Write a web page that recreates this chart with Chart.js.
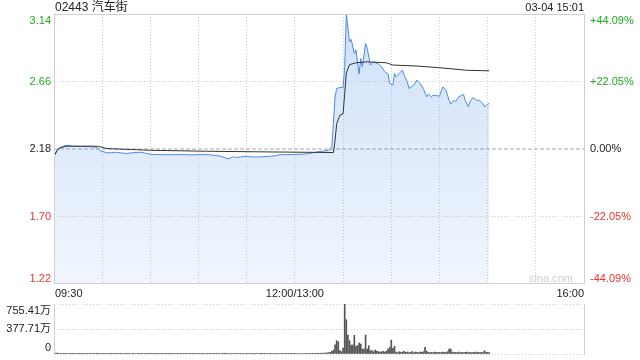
<!DOCTYPE html>
<html>
<head>
<meta charset="utf-8">
<script src="https://cdn.jsdelivr.net/npm/chart.js@4.4.1/dist/chart.umd.min.js"></script>
<style>
html, body { margin: 0; padding: 0; background: #fff; }
#wrap { position: relative; width: 640px; height: 360px; overflow: hidden; }
#main { position: absolute; left: 0; top: 0; width: 640px; height: 300px; }
#vol { position: absolute; left: 0; top: 300px; width: 640px; height: 60px; }
</style>
</head>
<body>
<div id="wrap">
  <div id="main"><canvas id="priceChart"></canvas></div>
  <div id="vol"><canvas id="volChart"></canvas></div>
</div>
<script>
// header
var stockTitle = '02443 汽车街';
var stamp = '03-04 15:01';

// trading minutes: 0 = 09:30, 150 = 12:00/13:00, 330 = 16:00
var prevClose = 2.18;
var priceTicks = [1.22, 1.70, 2.18, 2.66, 3.14];
var priceLabels = ['1.22', '1.70', '2.18', '2.66', '3.14'];
var pctLabels = ['-44.09%', '-22.05%', '0.00%', '+22.05%', '+44.09%'];
var gridMinutes = [0, 30, 60, 90, 120, 150, 180, 210, 240, 270, 300, 330];
var timeMinutes = [0, 150, 330];
var timeLabels = ['09:30', '12:00/13:00', '16:00'];

var priceMinutes = [0, 1, 2, 3, 5, 7, 9, 12, 16, 20, 24, 27, 28, 29, 31, 33, 36, 39, 42, 45, 48, 51, 54, 57, 60, 64,
  70, 75, 80, 86, 91, 96, 100, 104, 107, 109, 111, 113, 116, 119, 122, 126, 130, 134, 137, 141, 145, 150, 153, 157,
  161, 164, 168, 171, 173, 175, 176, 178, 180, 181, 182, 184, 185, 187, 188, 190, 191, 192, 194, 195, 197, 199, 202,
  204, 206, 208, 209, 211, 212, 213, 215, 217, 218, 220, 221, 224, 226, 228, 230, 232, 233, 235, 236, 240, 242, 244,
  246, 247, 249, 250, 252, 255, 256, 258, 259, 261, 263, 265, 267, 268, 270, 271];
var prices = [2.13, 2.15, 2.175, 2.185, 2.195, 2.205, 2.205, 2.20, 2.198, 2.198, 2.196, 2.19, 2.175, 2.166, 2.16, 2.152,
  2.155, 2.157, 2.152, 2.148, 2.152, 2.155, 2.157, 2.15, 2.143, 2.14,
  2.14, 2.14, 2.14, 2.138, 2.14, 2.14, 2.135, 2.128, 2.115, 2.11, 2.125, 2.12, 2.123, 2.128, 2.125, 2.123, 2.125,
  2.128, 2.13, 2.14, 2.14, 2.142, 2.143, 2.145,
  2.152, 2.16, 2.166, 2.17, 2.195, 2.55, 2.61, 2.617, 2.617, 2.765, 3.14, 2.943, 2.96, 2.86, 2.884, 2.713, 2.824,
  2.765, 2.93, 2.896, 2.777, 2.80, 2.784,
  2.765, 2.73, 2.713, 2.646, 2.634, 2.718, 2.693, 2.718, 2.741, 2.705, 2.658, 2.61, 2.634, 2.67, 2.646, 2.61, 2.551,
  2.57, 2.551, 2.563, 2.556, 2.622, 2.599,
  2.527, 2.499, 2.527, 2.515, 2.551, 2.568, 2.527, 2.48, 2.515, 2.547, 2.527, 2.527, 2.504, 2.48, 2.499, 2.504];

var avgMinutes = [0, 2, 4, 8, 27, 33, 60, 95, 136, 174, 175, 176, 178, 180, 181, 182, 184, 188, 195, 207, 211, 226, 240, 257, 271];
var avgPrices = [2.13, 2.17, 2.19, 2.20, 2.20, 2.183, 2.171, 2.164, 2.159, 2.155, 2.24, 2.36, 2.42, 2.43, 2.575, 2.72,
  2.78, 2.793, 2.80, 2.793, 2.777, 2.77, 2.758, 2.74, 2.736];

// volume per minute, in 万
var volumes = [
  30, 12, 15, 10, 8, 12, 9, 10, 7, 8,
  6, 9, 5, 7, 8, 6, 5, 9, 6, 7,
  5, 6, 8, 5, 7, 6, 9, 12, 10, 8,
  7, 6, 8, 5, 6, 7, 5, 8, 6, 5,
  7, 6, 5, 8, 6, 7, 5, 6, 8, 5,
  6, 7, 5, 6, 8, 5, 7, 6, 9, 7,
  6, 5, 7, 6, 5, 8, 6, 5, 7, 6,
  5, 6, 7, 5, 6, 8, 5, 6, 7, 5,
  6, 5, 8, 6, 7, 5, 6, 5, 7, 6,
  5, 7, 6, 5, 8, 6, 5, 7, 6, 5,
  6, 8, 7, 9, 8, 10, 12, 9, 11, 8,
  7, 6, 8, 5, 7, 6, 5, 8, 6, 7,
  5, 6, 7, 5, 6, 8, 5, 7, 6, 5,
  6, 5, 7, 6, 8, 5, 6, 7, 5, 6,
  7, 5, 6, 8, 6, 5, 7, 6, 5, 9,
  12, 8, 7, 6, 8, 7, 9, 6, 8, 7,
  9, 8, 10, 9, 12, 10, 11, 14, 12, 15,
  18, 20, 25, 40, 60, 140, 201, 186, 50, 35,
  90, 755, 518, 287, 201, 136, 136, 282, 116, 126,
  166, 151, 75, 75, 287, 75, 126, 50, 50, 35,
  60, 45, 35, 30, 35, 40, 30, 45, 75, 100,
  211, 85, 116, 30, 20, 35, 25, 30, 40, 25,
  30, 20, 25, 35, 20, 30, 25, 20, 30, 25,
  35, 100, 45, 25, 20, 25, 20, 30, 25, 20,
  25, 20, 30, 25, 20, 35, 75, 75, 30, 20,
  25, 20, 30, 20, 25, 20, 25, 30, 20, 25,
  20, 25, 20, 30, 25, 20, 25, 20, 50, 30,
  25, 20
];
var volTicks = [0, 377.705, 755.41];
var volLabels = ['0', '377.71万', '755.41万'];

var FONT = "'Liberation Sans', Arial, 'Noto Sans CJK SC', sans-serif";
var GREEN = '#22a822', RED = '#f03232', DARK = '#222';
var GRID = '#cfcfcf';

function levelColor(v) {
  if (v > prevClose) return GREEN;
  if (v < prevClose) return RED;
  return DARK;
}

var mainLabels = {
  id: 'mainLabels',
  afterDraw: function(chart) {
    var ctx = chart.ctx, a = chart.chartArea;
    var ys = chart.scales.y, xs = chart.scales.x;
    ctx.save();
    ctx.strokeStyle = GRID;
    ctx.lineWidth = 1;
    ctx.strokeRect(a.left + 0.5, a.top + 0.5, a.right - a.left, a.bottom - a.top - 1);

    ctx.font = '12px ' + FONT;
    ctx.fillStyle = DARK;
    ctx.textBaseline = 'middle';
    ctx.textAlign = 'left';
    ctx.fillText(stockTitle, a.left + 1, 7.5);
    ctx.font = '11px ' + FONT;
    ctx.textAlign = 'right';
    ctx.fillText(stamp, a.right, 7.5);

    priceTicks.forEach(function(v, i) {
      var y = ys.getPixelForValue(v);
      if (i === priceTicks.length - 1) y = a.top + 6.5;
      if (i === 0) y = a.bottom - 5;
      ctx.fillStyle = levelColor(v);
      ctx.textAlign = 'right';
      ctx.fillText(priceLabels[i], a.left - 3, y);
      ctx.textAlign = 'left';
      ctx.fillText(pctLabels[i], a.right + 6, y);
    });

    ctx.fillStyle = DARK;
    timeMinutes.forEach(function(m, i) {
      var x = xs.getPixelForValue(m);
      ctx.textAlign = i === 0 ? 'left' : (i === timeMinutes.length - 1 ? 'right' : 'center');
      ctx.fillText(timeLabels[i], i === 0 ? x + 1 : x, a.bottom + 9.5);
    });

    // watermark
    ctx.font = '11px ' + FONT;
    ctx.fillStyle = '#cdcdcd';
    ctx.textAlign = 'right';
    ctx.fillText('sina.com', a.right - 11, a.bottom - 5);
    ctx.restore();
  }
};

var volLabelsPlugin = {
  id: 'volLabels',
  afterDraw: function(chart) {
    var ctx = chart.ctx, a = chart.chartArea, ys = chart.scales.y;
    ctx.save();
    ctx.strokeStyle = GRID;
    ctx.lineWidth = 1;
    ctx.beginPath();
    ctx.moveTo(a.left + 0.5, a.top);
    ctx.lineTo(a.left + 0.5, a.bottom + 1);
    ctx.moveTo(a.right + 0.5, a.top);
    ctx.lineTo(a.right + 0.5, a.bottom + 1);
    ctx.stroke();
    ctx.font = '11px ' + FONT;
    ctx.fillStyle = DARK;
    ctx.textBaseline = 'middle';
    ctx.textAlign = 'right';
    volTicks.forEach(function(v, i) {
      var y = ys.getPixelForValue(v);
      if (i === volTicks.length - 1) y = a.top + 6.5;
      if (i === 0) y = a.bottom - 6.5;
      ctx.fillText(volLabels[i], a.left - 3, y);
    });
    ctx.restore();
  }
};

document.addEventListener('DOMContentLoaded', function() {
  var ctx = document.getElementById('priceChart').getContext('2d');

  var priceChart = new Chart(ctx, {
    type: 'line',
    data: {
      datasets: [{
        label: 'price',
        data: priceMinutes.map(function(m, i) { return { x: m, y: prices[i] }; }),
        borderColor: '#4a8aea',
        borderWidth: 1,
        pointRadius: 0,
        tension: 0,
        fill: 'start',
        backgroundColor: function(c) {
          var a = c.chart.chartArea;
          if (!a) return 'rgba(74,138,234,0.15)';
          var g = c.chart.ctx.createLinearGradient(0, a.top, 0, a.bottom);
          g.addColorStop(0, 'rgba(74,138,234,0.26)');
          g.addColorStop(1, 'rgba(74,138,234,0.08)');
          return g;
        },
        order: 2
      }, {
        label: 'avg',
        data: avgMinutes.map(function(m, i) { return { x: m, y: avgPrices[i] }; }),
        borderColor: '#333',
        borderWidth: 1,
        pointRadius: 0,
        tension: 0,
        fill: false,
        order: 1
      }, {
        label: 'prevClose',
        data: [{ x: 0, y: prevClose }, { x: 330, y: prevClose }],
        borderColor: '#a8a8a8',
        borderWidth: 1,
        borderDash: [4, 2],
        pointRadius: 0,
        fill: false,
        order: 3
      }]
    },
    options: {
      responsive: true,
      maintainAspectRatio: false,
      animation: false,
      layout: { padding: { top: 14, right: 56, left: 0, bottom: 0 } },
      plugins: {
        legend: { display: false },
        tooltip: { enabled: false }
      },
      scales: {
        x: {
          type: 'linear',
          min: 0,
          max: 330,
          afterBuildTicks: function(s) { s.ticks = gridMinutes.map(function(v) { return { value: v }; }); },
          afterFit: function(s) { s.height = 16; },
          ticks: { display: false },
          grid: {
            drawTicks: false,
            color: function(c) {
              var v = c.tick && c.tick.value;
              return (v === 0 || v === 330) ? 'rgba(0,0,0,0)' : GRID;
            }
          },
          border: { display: false, dash: [1, 2] }
        },
        y: {
          min: 1.22,
          max: 3.14,
          afterBuildTicks: function(s) { s.ticks = priceTicks.map(function(v) { return { value: v }; }); },
          afterFit: function(s) { s.width = 54; },
          ticks: { display: false },
          grid: {
            drawTicks: false,
            color: function(c) {
              var v = c.tick && c.tick.value;
              return (v === 1.22 || v === 3.14 || v === prevClose) ? 'rgba(0,0,0,0)' : GRID;
            }
          },
          border: { display: false, dash: [1, 2] }
        }
      }
    },
    plugins: [mainLabels]
  });

  var vctx = document.getElementById('volChart').getContext('2d');
  var volChart = new Chart(vctx, {
    type: 'bar',
    data: {
      datasets: [{
        label: 'volume',
        data: volumes.map(function(v, i) { return { x: i, y: v }; }),
        backgroundColor: '#555',
        barThickness: 1
      }]
    },
    options: {
      responsive: true,
      maintainAspectRatio: false,
      animation: false,
      layout: { padding: { top: 4, right: 56, left: 0, bottom: 0 } },
      plugins: {
        legend: { display: false },
        tooltip: { enabled: false }
      },
      scales: {
        x: {
          type: 'linear',
          min: 0,
          max: 330,
          offset: false,
          afterFit: function(s) { s.height = 6; },
          ticks: { display: false },
          grid: { display: false, offset: false },
          border: { display: false }
        },
        y: {
          min: 0,
          max: 755.41,
          afterBuildTicks: function(s) { s.ticks = volTicks.map(function(v) { return { value: v }; }); },
          afterFit: function(s) { s.width = 54; },
          ticks: { display: false },
          grid: { drawTicks: false, color: GRID },
          border: { display: false, dash: [1, 2] }
        }
      }
    },
    plugins: [volLabelsPlugin]
  });
});
</script>
</body>
</html>
